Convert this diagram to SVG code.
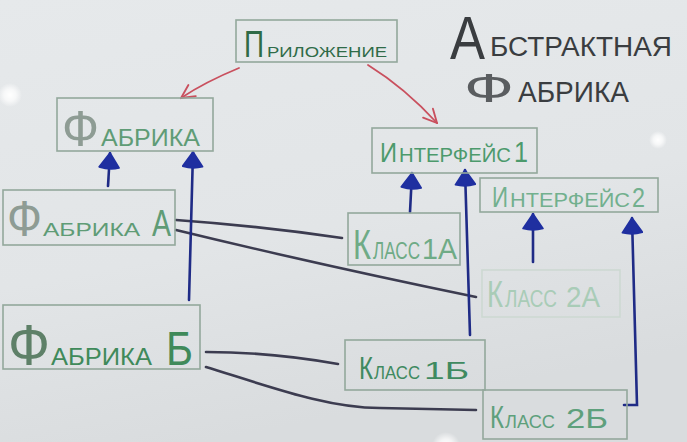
<svg xmlns="http://www.w3.org/2000/svg" width="687" height="442" viewBox="0 0 687 442">
<style>
.box{fill:none;stroke:#93a89c;stroke-width:1.6}
.t{font-family:"Liberation Sans","DejaVu Sans",sans-serif;}
.up{text-transform:uppercase}
.blue{fill:none;stroke:#1f2b86;stroke-width:2.6;stroke-linecap:round}
.red{fill:none;stroke:#c9505e;stroke-width:1.8;stroke-linecap:round}
.blk{fill:none;stroke:#3c3c50;stroke-width:2.6;stroke-linecap:round}
</style>
<defs>
<linearGradient id="bg" x1="0" y1="0" x2="0.3" y2="1">
<stop offset="0" stop-color="#e6e9eb"/>
<stop offset="0.6" stop-color="#e2e5e7"/>
<stop offset="1" stop-color="#d9dcde"/>
</linearGradient>
<radialGradient id="glare">
<stop offset="0" stop-color="#ffffff"/>
<stop offset="0.5" stop-color="#ffffff" stop-opacity="0.7"/>
<stop offset="1" stop-color="#ffffff" stop-opacity="0"/>
</radialGradient>
<marker id="bh" viewBox="0 0 20 24" refX="19" refY="12" markerWidth="18" markerHeight="22" markerUnits="userSpaceOnUse" orient="auto">
<path d="M19,12 L3,1 Q0,12 3,23 Z" fill="#1f2fa0" stroke="#1f2fa0" stroke-width="2" stroke-linejoin="round"/>
</marker>
<marker id="rh" viewBox="0 0 12 12" refX="11" refY="6" markerWidth="16" markerHeight="16" markerUnits="userSpaceOnUse" orient="auto">
<path d="M1,1 L11,6 L1,11" fill="none" stroke="#c9505e" stroke-width="1.4" stroke-linecap="round"/>
</marker>
</defs>
<rect width="687" height="442" fill="url(#bg)"/>
<circle cx="10" cy="95" r="12" fill="url(#glare)"/>
<circle cx="658" cy="140" r="9" fill="url(#glare)"/>
<circle cx="446" cy="446" r="14" fill="url(#glare)"/>

<g id="title" class="t" fill="#3a3d40">
<text x="450" y="59" font-size="62" textLength="35" lengthAdjust="spacingAndGlyphs">А</text>
<text x="490" y="56" font-size="27" textLength="182" lengthAdjust="spacingAndGlyphs" class="up">бстрактная</text>
<text x="464" y="102" font-size="40" textLength="50" lengthAdjust="spacingAndGlyphs" fill="#5a5d60">Ф</text>
<text x="518" y="102" font-size="29" textLength="111" lengthAdjust="spacingAndGlyphs" class="up">абрика</text>
</g>

<g id="connectors">
<path class="red" d="M239,68 Q205,82 181,98" marker-end="url(#rh)"/>
<path class="red" d="M368,65 Q405,88 437,123" marker-end="url(#rh)"/>
<path class="blk" d="M176,220 Q260,226 342,238"/>
<path class="blk" d="M176,230 Q320,265 476,297"/>
<path class="blk" d="M206,352 Q270,352 338,364"/>
<path class="blk" d="M206,367 C280,390 330,408 380,408 L476,410"/>
<path class="blue" d="M108,186 L110,153" marker-end="url(#bh)"/>
<path class="blue" d="M189,300 L193,152" marker-end="url(#bh)"/>
<path class="blue" d="M410,212 L412,173" marker-end="url(#bh)"/>
<path class="blue" d="M470,335 L465,170" marker-end="url(#bh)"/>
<path class="blue" d="M533,262 L533,214" marker-end="url(#bh)"/>
<path class="blue" d="M624,405 L637,405 L632,218" marker-end="url(#bh)"/>
</g>

<g id="app">
<rect class="box" x="236" y="20" width="161" height="42"/>
<text class="t" y="57" fill="#2f6b48"><tspan x="244" font-size="37" textLength="20" lengthAdjust="spacingAndGlyphs">П</tspan><tspan x="267" font-size="14" textLength="120" lengthAdjust="spacingAndGlyphs" class="up">риложение</tspan></text>
</g>

<g id="factory">
<rect class="box" x="57" y="98" width="156" height="53"/>
<text class="t" y="146"><tspan x="62" font-size="50" fill="#8e9c94" textLength="37" lengthAdjust="spacingAndGlyphs">Ф</tspan><tspan x="101" font-size="24" fill="#5f9c76" textLength="99" lengthAdjust="spacingAndGlyphs" class="up">абрика</tspan></text>
</g>

<g id="iface1">
<rect class="box" x="372" y="128" width="165" height="45"/>
<text class="t" y="162" fill="#4c9a6c"><tspan x="380" font-size="28" textLength="17" lengthAdjust="spacingAndGlyphs">И</tspan><tspan x="399" font-size="20" textLength="112" lengthAdjust="spacingAndGlyphs" class="up">нтерфейс</tspan><tspan x="514" font-size="30" textLength="14" lengthAdjust="spacingAndGlyphs">1</tspan></text>
</g>

<g id="iface2">
<rect class="box" x="480" y="178" width="178" height="34"/>
<text class="t" y="207" fill="#72b08e"><tspan x="492" font-size="30" textLength="16" lengthAdjust="spacingAndGlyphs">И</tspan><tspan x="510" font-size="20" textLength="120" lengthAdjust="spacingAndGlyphs" class="up">нтерфейс</tspan><tspan x="632" font-size="27" textLength="13" lengthAdjust="spacingAndGlyphs">2</tspan></text>
</g>

<g id="factoryA">
<rect class="box" x="3" y="190" width="172" height="55"/>
<text class="t" y="236"><tspan x="7" font-size="50" fill="#8e9c94" textLength="35" lengthAdjust="spacingAndGlyphs">Ф</tspan><tspan x="43" font-size="19" fill="#5f9c76" textLength="97" lengthAdjust="spacingAndGlyphs" class="up">абрика</tspan><tspan font-size="8"> </tspan><tspan x="152" font-size="37" fill="#5f9c76" textLength="19" lengthAdjust="spacingAndGlyphs">А</tspan></text>
</g>

<g id="class1A">
<rect class="box" x="348" y="213" width="112" height="52"/>
<text class="t" y="259" fill="#6fab86"><tspan x="353" font-size="42" textLength="18" lengthAdjust="spacingAndGlyphs">К</tspan><tspan x="373" font-size="23" textLength="47" lengthAdjust="spacingAndGlyphs" class="up">ласс</tspan><tspan x="422" font-size="30" textLength="35" lengthAdjust="spacingAndGlyphs">1А</tspan></text>
</g>

<g id="class2A">
<rect class="box" x="482" y="270" width="138" height="47" style="stroke:#cdd9d2"/>
<text class="t" y="307" fill="#a9ccb7"><tspan x="487" font-size="37" textLength="16" lengthAdjust="spacingAndGlyphs">К</tspan><tspan x="505" font-size="23" textLength="52" lengthAdjust="spacingAndGlyphs" class="up">ласс</tspan><tspan font-size="6"> </tspan><tspan x="566" font-size="30" textLength="34" lengthAdjust="spacingAndGlyphs">2А</tspan></text>
</g>

<g id="factoryB">
<rect class="box" x="3" y="305" width="197" height="64"/>
<text class="t" y="365"><tspan x="8" font-size="58" fill="#5e8068" textLength="42" lengthAdjust="spacingAndGlyphs">Ф</tspan><tspan x="51" font-size="23" fill="#3f8a5a" textLength="101" lengthAdjust="spacingAndGlyphs" class="up">абрика</tspan><tspan font-size="8"> </tspan><tspan x="166" font-size="48" fill="#3f8a5a" textLength="27" lengthAdjust="spacingAndGlyphs">Б</tspan></text>
</g>

<g id="class1B">
<rect class="box" x="345" y="340" width="140" height="50"/>
<text class="t" y="379" fill="#3f8a60"><tspan x="359" font-size="32" textLength="14" lengthAdjust="spacingAndGlyphs">К</tspan><tspan x="374" font-size="18" textLength="46" lengthAdjust="spacingAndGlyphs" class="up">ласс</tspan><tspan font-size="4"> </tspan><tspan x="424" font-size="24" textLength="45" lengthAdjust="spacingAndGlyphs">1Б</tspan></text>
</g>

<g id="class2B">
<rect class="box" x="483" y="390" width="144" height="49"/>
<text class="t" y="428" fill="#5ea07c"><tspan x="490" font-size="32" textLength="14" lengthAdjust="spacingAndGlyphs">К</tspan><tspan x="505" font-size="18" textLength="50" lengthAdjust="spacingAndGlyphs" class="up">ласс</tspan><tspan font-size="6"> </tspan><tspan x="566" font-size="28" textLength="42" lengthAdjust="spacingAndGlyphs">2Б</tspan></text>
</g>
</svg>
